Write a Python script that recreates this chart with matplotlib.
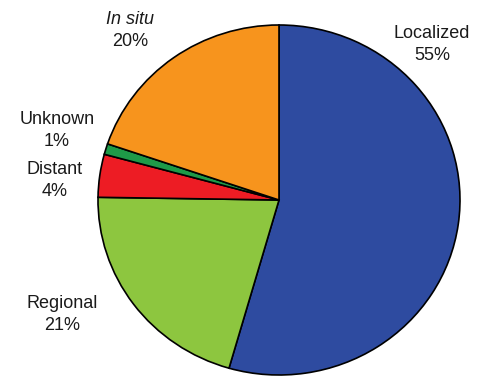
import matplotlib
matplotlib.use("Agg")
import matplotlib.pyplot as plt

categories = ["Localized", "Regional", "Distant", "Unknown", "In situ"]
values = [55, 21, 4, 1, 20]
colors = ["#2E4BA0", "#8DC63F", "#ED1C24", "#1E9A48", "#F7941D"]

plt.rcParams['font.family'] = ['Liberation Sans', 'DejaVu Sans']

W, H = 488, 381
fig = plt.figure(figsize=(W / 100, H / 100), dpi=100)
# pie bounding box in pixels: x 98..460, y 25..375 (top-down)
x0, x1, yt, yb = 98, 460, 25, 375
ax = fig.add_axes([x0 / W, (H - yb) / H, (x1 - x0) / W, (yb - yt) / H])
ax.pie(values, colors=colors, startangle=90, counterclock=False,
       wedgeprops=dict(edgecolor="black", linewidth=1.2))
ax.set_aspect('auto')
ax.set_xlim(-1, 1)
ax.set_ylim(-1, 1)
ax.axis('off')

labels = [
    ("Localized", "55%", 432, 33, False),
    ("Regional", "21%", 62, 304, False),
    ("Distant", "4%", 55, 170, False),
    ("Unknown", "1%", 57, 119, False),
    ("In situ", "20%", 130, 20, True),
]
for name, pct, px, py, ital in labels:
    fig.text(px / W, 1 - py / H, name, ha='center', va='center', fontsize=13,
             style='italic' if ital else 'normal', color='#1a1a1a')
    fig.text(px / W, 1 - (py + 22) / H, pct, ha='center', va='center', fontsize=13,
             color='#1a1a1a')

fig.savefig("out.png", dpi=100)
